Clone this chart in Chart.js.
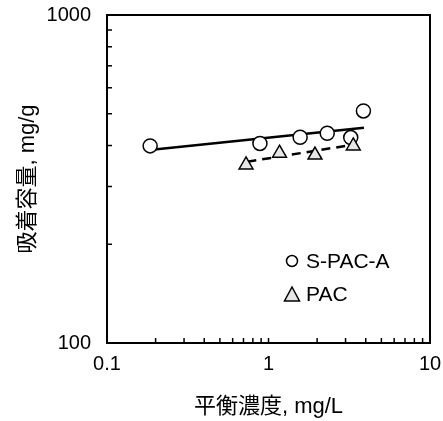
<!DOCTYPE html>
<html>
<head>
<meta charset="utf-8">
<script src="https://cdn.jsdelivr.net/npm/chart.js@4"></script>
<style>
  html, body { margin: 0; padding: 0; background: #fff; }
  #wrap { width: 443px; height: 421px; }
</style>
</head>
<body>
<div id="wrap"><canvas id="grafico" width="443" height="421"></canvas></div>
<script>
// dados
const sPacX = [0.185, 0.885, 1.57, 2.31, 3.23, 3.87];
const sPacY = [399, 406, 424, 436, 423, 510];
const pacX = [0.726, 1.17, 1.94, 3.35];
const pacY = [349, 379, 374, 399];
const sPacFitX = [0.19, 3.9];
const sPacFitY = [388, 453];
const pacFitX = [0.74, 3.3];
const pacFitY = [357, 402];
const seriesNames = ['S-PAC-A', 'PAC'];
const xTicks = [0.1, 0.2, 0.3, 0.4, 0.5, 0.6, 0.7, 0.8, 0.9, 1, 2, 3, 4, 5, 6, 7, 8, 9, 10];
const yTicks = [100, 200, 300, 400, 500, 600, 700, 800, 900, 1000];
const xLabels = [0.1, 1, 10];
const yLabels = [100, 1000];

const fonte = '"Liberation Sans", Arial, "Noto Sans CJK JP", sans-serif';

function pares(xs, ys) {
    return xs.map((x, i) => ({ x: x, y: ys[i] }));
}

// moldura, ticks internos e legenda
const extras = {
    id: 'extras',
    afterDraw(chart) {
        const ctx = chart.ctx;
        const a = chart.chartArea;
        const sx = chart.scales.x;
        const sy = chart.scales.y;
        ctx.save();
        ctx.strokeStyle = '#000';
        ctx.lineWidth = 1.5;
        xTicks.forEach(v => {
            const px = sx.getPixelForValue(v);
            ctx.beginPath();
            ctx.moveTo(px, a.bottom);
            ctx.lineTo(px, a.bottom - 5);
            ctx.stroke();
        });
        yTicks.forEach(v => {
            const py = sy.getPixelForValue(v);
            ctx.beginPath();
            ctx.moveTo(a.left, py);
            ctx.lineTo(a.left + 5, py);
            ctx.stroke();
        });
        ctx.lineWidth = 2;
        ctx.strokeRect(a.left, a.top, a.right - a.left, a.bottom - a.top);

        // legenda
        ctx.lineWidth = 1.5;
        ctx.fillStyle = '#fff';
        ctx.beginPath();
        ctx.arc(292, 261, 5.5, 0, Math.PI * 2);
        ctx.fill();
        ctx.stroke();
        ctx.fillStyle = '#e6e6e6';
        ctx.beginPath();
        ctx.moveTo(292, 287);
        ctx.lineTo(299.5, 301);
        ctx.lineTo(284.5, 301);
        ctx.closePath();
        ctx.fill();
        ctx.stroke();
        ctx.fillStyle = '#000';
        ctx.font = '21px ' + fonte;
        ctx.textBaseline = 'middle';
        ctx.textAlign = 'left';
        ctx.fillText(seriesNames[0], 306, 262);
        ctx.fillText(seriesNames[1], 306, 295);
        ctx.restore();
    }
};

const ctx = document.getElementById('grafico').getContext('2d');
const chart = new Chart(ctx, {
    type: 'scatter',
    data: {
        datasets: [
            {
                label: seriesNames[0],
                data: pares(sPacX, sPacY),
                pointStyle: 'circle',
                pointRadius: 7,
                pointBackgroundColor: '#fff',
                pointBorderColor: '#000',
                pointBorderWidth: 1.5,
                order: 1
            },
            {
                label: seriesNames[1],
                data: pares(pacX, pacY),
                pointStyle: 'triangle',
                pointRadius: 8,
                pointBackgroundColor: '#e6e6e6',
                pointBorderColor: '#000',
                pointBorderWidth: 1.5,
                order: 0
            },
            {
                label: 'fit S-PAC-A',
                data: pares(sPacFitX, sPacFitY),
                showLine: true,
                borderColor: '#000',
                borderWidth: 2.5,
                pointRadius: 0,
                order: 3
            },
            {
                label: 'fit PAC',
                data: pares(pacFitX, pacFitY),
                showLine: true,
                borderColor: '#000',
                borderWidth: 2.5,
                borderDash: [9, 6],
                pointRadius: 0,
                order: 3
            }
        ]
    },
    options: {
        responsive: false,
        animation: false,
        layout: { padding: { left: 0, right: 13, top: 15, bottom: 0 } },
        plugins: {
            legend: { display: false },
            tooltip: { enabled: false }
        },
        scales: {
            x: {
                type: 'logarithmic',
                min: 0.1,
                max: 10,
                afterBuildTicks: s => { s.ticks = xTicks.map(v => ({ value: v })); },
                afterFit: s => { s.height = 78; s.paddingLeft = 0; s.paddingRight = 0; },
                grid: { display: false, drawTicks: false },
                border: { display: false },
                ticks: {
                    autoSkip: false,
                    maxRotation: 0,
                    padding: 9,
                    color: '#000',
                    font: { family: fonte, size: 20 },
                    callback: v => xLabels.includes(v) ? String(v) : ''
                },
                title: {
                    display: true,
                    text: '平衡濃度, mg/L',
                    color: '#000',
                    padding: 1,
                    font: { family: fonte, size: 22 }
                }
            },
            y: {
                type: 'logarithmic',
                min: 100,
                max: 1000,
                afterBuildTicks: s => { s.ticks = yTicks.map(v => ({ value: v })); },
                afterFit: s => { s.width = 107; s.paddingTop = 0; s.paddingBottom = 0; },
                grid: { display: false, drawTicks: false },
                border: { display: false },
                ticks: {
                    autoSkip: false,
                    padding: 16,
                    color: '#000',
                    font: { family: fonte, size: 20 },
                    callback: v => yLabels.includes(v) ? String(v) : ''
                },
                title: {
                    display: true,
                    text: '吸着容量, mg/g',
                    color: '#000',
                    padding: 15,
                    font: { family: fonte, size: 22 }
                }
            }
        }
    },
    plugins: [extras]
});
</script>
</body>
</html>
